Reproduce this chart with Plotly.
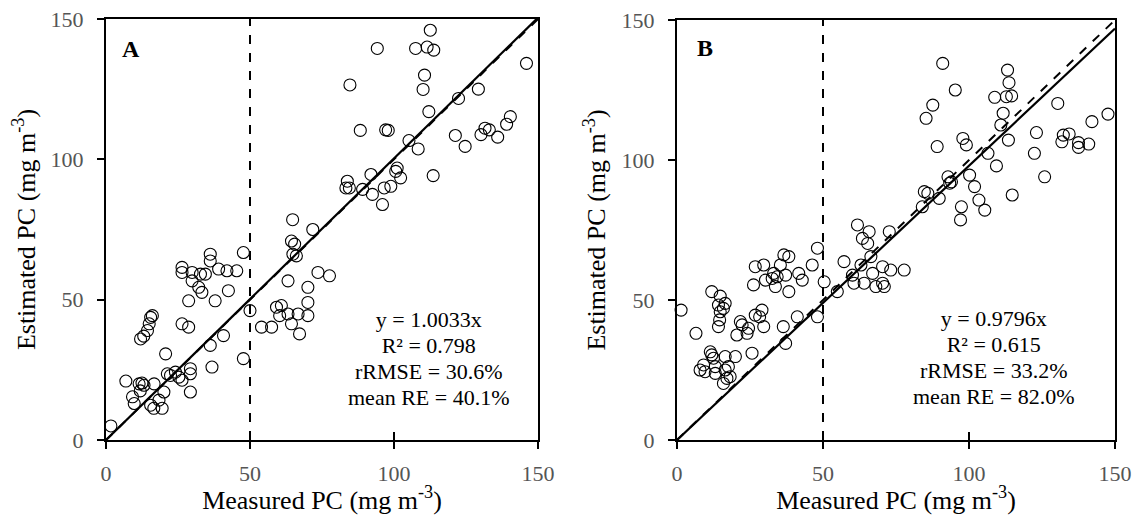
import plotly.graph_objects as go

# ---------------- Panel A data (Measured PC, Estimated PC) ----------------
a_measured = [1.7, 6.9, 9.2, 9.8, 11.5, 12.5, 13.2, 11.9, 15.5, 16.6, 19.5, 16.7, 18.4, 20.1,
              20.7, 12.0, 13.1, 14.4, 15.0, 15.5, 16.1, 21.3, 22.4, 24.1, 25.3, 26.4, 29.3, 29.3,
              29.3, 26.4, 28.7, 28.7, 26.4, 26.4, 29.9, 29.9, 32.2, 33.3, 32.8, 34.5, 36.2, 36.2,
              39.1, 42.0, 45.4, 37.9, 42.5, 47.7, 40.8, 36.2, 36.8, 47.7, 50.0, 54.0, 57.5, 59.2,
              60.9, 60.3, 63.2, 64.4, 66.7, 67.2, 70.1, 70.1, 70.1, 63.2, 73.6, 77.6, 64.9, 65.5,
              64.4, 66.1, 71.8, 64.8, 94.2, 84.7, 88.3, 97.1, 98.0, 83.8, 84.5, 83.3, 89.1, 92.0,
              92.5, 96.0, 96.6, 98.9, 100.6, 112.6, 107.5, 111.5, 113.8, 110.6, 110.1, 112.1, 105.2,
              108.4, 122.4, 129.3, 146.0, 121.3, 124.7, 130.2, 131.6, 133.1, 136.0, 139.1, 140.4,
              113.6, 102.3, 101.1]
a_estimated = [5.0, 21.0, 15.4, 13.0, 20.0, 20.3, 19.5, 17.5, 12.4, 11.3, 11.3, 20.0, 14.2, 17.1,
               30.7, 36.0, 37.0, 39.0, 41.4, 43.7, 44.3, 23.6, 23.0, 24.2, 22.4, 21.3, 25.4, 23.6,
               17.1, 41.4, 40.2, 49.6, 61.5, 59.7, 59.7, 56.7, 54.4, 52.6, 59.1, 59.1, 66.2, 63.8,
               60.9, 60.3, 60.3, 49.6, 53.2, 66.8, 37.2, 33.7, 26.0, 29.0, 46.1, 40.2, 40.2, 47.3,
               47.9, 44.3, 44.9, 41.4, 44.9, 37.8, 49.0, 44.3, 54.4, 56.7, 59.7, 58.5, 66.2, 69.8,
               70.9, 65.6, 75.0, 78.5, 139.5, 126.5, 110.3, 110.5, 110.3, 92.2, 89.8, 89.8, 89.3, 94.6,
               87.5, 83.9, 89.8, 90.4, 95.7, 146.0, 139.5, 140.0, 138.9, 130.0, 124.9, 117.0, 106.7,
               103.7, 121.7, 125.0, 134.2, 108.5, 104.6, 108.8, 111.1, 110.5, 107.9, 112.5, 115.2,
               94.2, 93.4, 96.9]

# ---------------- Panel B data ----------------
b_measured = [1.4, 6.5, 11.9, 14.8, 14.2, 15.9, 14.8, 16.5, 14.6, 14.2, 21.7, 20.5, 24.0, 24.5,
              22.3, 26.8, 29.1, 28.3, 29.7, 25.7, 26.8, 26.2, 29.7, 30.3, 32.6, 33.1, 33.7, 34.3,
              35.4, 36.6, 38.3, 37.2, 38.3, 41.7, 42.9, 46.3, 48.1, 50.4, 36.4, 37.2, 41.2, 48.1,
              9.1, 7.9, 9.6, 11.4, 11.9, 12.5, 13.1, 13.1, 15.9, 16.5, 17.6, 18.2, 17.1, 20.0, 16.5,
              54.9, 57.2, 60.1, 60.6, 63.0, 63.5, 65.3, 66.4, 64.1, 67.0, 68.1, 70.4, 70.4, 71.0,
              73.2, 77.8, 61.8, 65.8, 72.7, 91.0, 95.3, 87.6, 85.3, 113.2, 113.7, 108.8, 112.8,
              114.6, 111.7, 110.9, 113.5, 130.4, 89.1, 97.9, 99.1, 106.5, 109.4, 123.1, 122.4,
              125.9, 132.3, 131.8, 134.3, 137.5, 137.5, 141.0, 142.1, 147.6, 100.2, 101.9, 103.4,
              105.4, 97.4, 97.1, 114.8, 92.8, 93.4, 94.0, 84.7, 85.9, 84.0, 89.8]
b_estimated = [46.4, 38.1, 53.0, 51.4, 48.2, 47.0, 45.8, 48.8, 42.9, 40.5, 42.3, 37.5, 38.1, 39.9,
               41.1, 44.6, 46.4, 44.0, 40.5, 31.0, 61.9, 55.4, 62.5, 57.1, 57.7, 59.5, 54.8, 58.3,
               62.5, 66.1, 65.5, 58.9, 53.0, 59.5, 57.1, 62.5, 68.5, 56.5, 40.5, 34.5, 44.0, 44.0,
               26.8, 25.0, 24.4, 31.5, 30.4, 29.2, 26.2, 23.8, 20.2, 25.0, 26.2, 22.6, 22.0, 29.8, 29.8,
               53.0, 63.7, 58.9, 56.0, 62.5, 72.0, 70.2, 65.5, 56.0, 59.5, 54.8, 61.9, 56.0, 54.8,
               60.7, 60.7, 76.8, 74.4, 74.4, 134.5, 125.0, 119.6, 114.9, 132.1, 127.6, 122.4, 122.6,
               122.9, 116.7, 112.5, 107.1, 120.2, 104.8, 107.7, 105.4, 102.4, 97.9, 109.8, 102.4,
               94.0, 108.9, 106.5, 109.3, 106.2, 104.5, 105.7, 113.7, 116.4, 94.6, 90.5, 85.7,
               82.1, 83.3, 78.6, 87.5, 94.0, 91.7, 92.2, 88.7, 88.1, 83.3, 86.3]

# ---------------- Fit / reference lines ----------------
line_x = [0, 150]
a_slope = 1.0033
b_slope = 0.9796
threshold = 50
axis_range = [0, 150]
tick_vals = [0, 50, 100, 150]

a_stats = ["y = 1.0033x", "R² = 0.798", "rRMSE = 30.6%", "mean RE = 40.1%"]
b_stats = ["y = 0.9796x", "R² = 0.615", "rRMSE = 33.2%", "mean RE = 82.0%"]

FONT = "Liberation Serif"
# page has an 8px body margin: size the figure to the visible window
OFF = 8
W, H = 1145 - 2 * OFF, 523 - 2 * OFF

def px_x(p):
    return (p - OFF) / W

def px_y(p):
    return 1 - (p - OFF) / H

fig = go.Figure()

def add_panel(xs, ys, slope, xa, ya):
    fig.add_trace(go.Scatter(x=line_x, y=line_x, mode="lines",
                             line=dict(color="black", width=2, dash="dash"),
                             xaxis=xa, yaxis=ya, showlegend=False, hoverinfo="skip"))
    fig.add_trace(go.Scatter(x=line_x, y=[v * slope for v in line_x], mode="lines",
                             line=dict(color="black", width=2.2),
                             xaxis=xa, yaxis=ya, showlegend=False, hoverinfo="skip"))
    fig.add_trace(go.Scatter(x=[threshold, threshold], y=axis_range, mode="lines",
                             line=dict(color="black", width=2, dash="dash"),
                             xaxis=xa, yaxis=ya, showlegend=False, hoverinfo="skip"))
    fig.add_trace(go.Scatter(x=xs, y=ys, mode="markers",
                             marker=dict(symbol="circle-open", size=12, color="black",
                                         line=dict(width=1.1, color="black")),
                             xaxis=xa, yaxis=ya, showlegend=False, cliponaxis=False))

add_panel(a_measured, a_estimated, a_slope, "x", "y")
add_panel(b_measured, b_estimated, b_slope, "x2", "y2")

# empty traces so the overlay (inside-tick) axes are drawn
fig.add_trace(go.Scatter(x=[], y=[], xaxis="x3", yaxis="y", showlegend=False))
fig.add_trace(go.Scatter(x=[], y=[], xaxis="x4", yaxis="y2", showlegend=False))

tickfont = dict(family=FONT, size=22, color="#555555")
ax_common = dict(range=axis_range, tickvals=tick_vals, showgrid=False, zeroline=False,
                 showline=True, linecolor="black", linewidth=2, mirror=True,
                 ticks="outside", ticklen=7, tickwidth=2, tickcolor="black",
                 tickfont=tickfont, automargin=False, ticklabeloverflow="allow")
inner_ticks = dict(range=axis_range, tickvals=tick_vals, showgrid=False, zeroline=False,
                   showline=False, ticks="inside", ticklen=8, tickwidth=2, tickcolor="black",
                   showticklabels=False, automargin=False)

xA = (px_x(106), px_x(538))
xB = (px_x(677), px_x(1115))
yA = (px_y(440), px_y(19))
yB = (px_y(440), px_y(20))

xtitle = dict(text="Measured PC (mg m<sup>-3</sup>)", font=dict(family=FONT, size=26, color="black"),
              standoff=0)
ytitle = dict(text="Estimated PC (mg m<sup>-3</sup>)", font=dict(family=FONT, size=26, color="black"),
              standoff=8)

fig.update_layout(
    width=W, height=H, paper_bgcolor="white", plot_bgcolor="white",
    margin=dict(l=0, r=0, t=0, b=0),
    xaxis=dict(domain=xA, anchor="y", title=xtitle, ticklabelstandoff=6, **ax_common),
    yaxis=dict(domain=yA, anchor="x", title=ytitle, ticklabelstandoff=9, **ax_common),
    xaxis2=dict(domain=xB, anchor="y2", title=xtitle, ticklabelstandoff=6, **ax_common),
    yaxis2=dict(domain=yB, anchor="x2", title=ytitle, ticklabelstandoff=9, **ax_common),
    xaxis3=dict(domain=xA, anchor="y", overlaying="x", **inner_ticks),
    xaxis4=dict(domain=xB, anchor="y2", overlaying="x2", **inner_ticks),
)

def add_text(xref, yref, stats, x, y, letter, lx, ly):
    # one block: base size 20 sets ~26px line spacing, glyphs drawn at 22px
    body = "<br>".join(f'<span style="font-size:22px">{s}</span>' for s in stats)
    fig.add_annotation(xref=xref, yref=yref, x=x, y=y, text=body, align="center",
                       showarrow=False, xanchor="center", yanchor="middle", borderpad=0,
                       font=dict(family=FONT, size=20, color="black"))
    fig.add_annotation(xref=xref, yref=yref, x=lx, y=ly, text=f"<b>{letter}</b>",
                       showarrow=False, xanchor="center", yanchor="middle",
                       font=dict(family=FONT, size=24, color="black"))

add_text("x", "y", a_stats, 112, 28.9, "A", 8.7, 139.4)
add_text("x2", "y2", b_stats, 108.6, 29.6, "B", 9.6, 140)

fig.write_html("out.html")
